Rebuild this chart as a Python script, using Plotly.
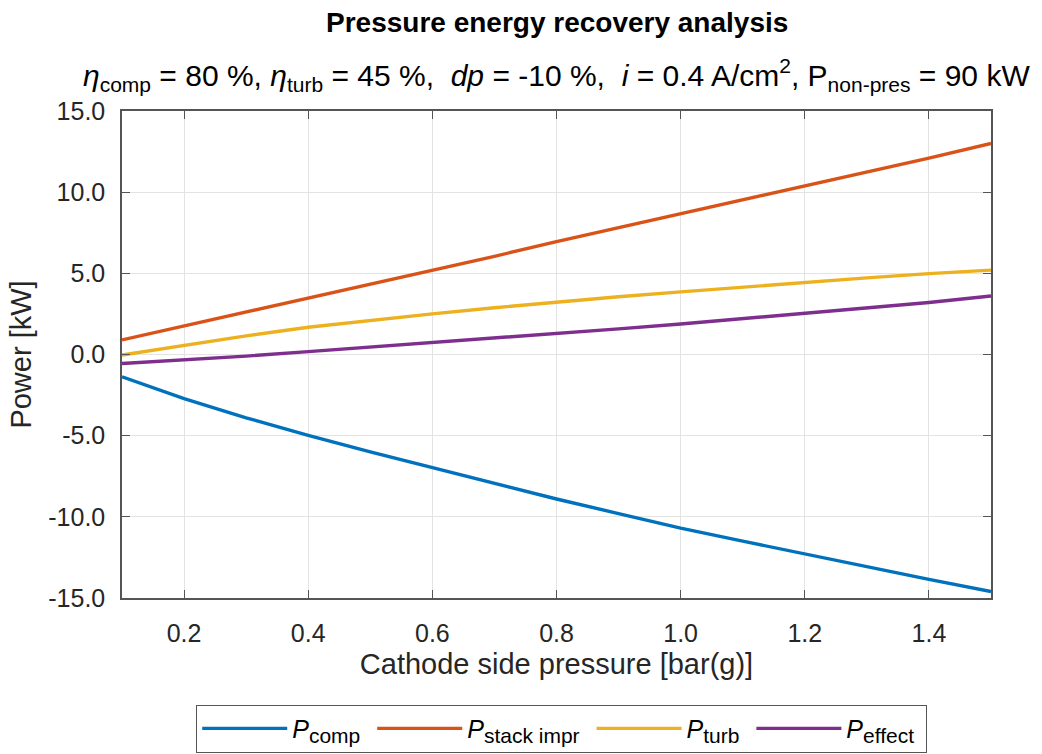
import plotly.graph_objects as go

pressure = [0.1, 0.2, 0.3, 0.4, 0.5, 0.6, 0.7, 0.8, 0.9, 1.0, 1.1, 1.2, 1.3, 1.4, 1.5]
p_comp = [-1.37, -2.72, -3.9, -4.98, -6.0, -6.98, -7.95, -8.9, -9.8, -10.7, -11.5, -12.3, -13.1, -13.85, -14.6]
p_stack = [0.9, 1.75, 2.6, 3.45, 4.3, 5.15, 6.05, 6.95, 7.8, 8.7, 9.55, 10.4, 11.25, 12.1, 13.0]
p_turb = [-0.03, 0.58, 1.15, 1.68, 2.1, 2.5, 2.88, 3.24, 3.56, 3.86, 4.16, 4.45, 4.72, 4.98, 5.2]
p_effect = [-0.55, -0.35, -0.1, 0.18, 0.45, 0.72, 1.0, 1.3, 1.58, 1.88, 2.2, 2.52, 2.85, 3.2, 3.6]

x_ticks = [0.2, 0.4, 0.6, 0.8, 1.0, 1.2, 1.4]
x_ticklabels = ["0.2", "0.4", "0.6", "0.8", "1.0", "1.2", "1.4"]
y_ticks = [-15, -10, -5, 0, 5, 10, 15]
y_ticklabels = ["-15.0", "-10.0", "-5.0", "0.0", "5.0", "10.0", "15.0"]

def leg(sub):
    return "<i>P</i><sub><span style='font-size:21px'>" + sub + "</span></sub>&nbsp;"

series = [
    (leg("comp"), p_comp, "#0072BD"),
    (leg("stack impr"), p_stack, "#D95319"),
    (leg("turb"), p_turb, "#EDB120"),
    (leg("effect"), p_effect, "#7E2F8E"),
]

FONT = "Liberation Sans, Arial, sans-serif"
AX = "#262626"
AXLINE = "#555555"

fig = go.Figure()
for name, vals, col in series:
    fig.add_trace(go.Scatter(x=pressure, y=vals, mode="lines", name=name,
                             line=dict(color=col, width=3.4)))

fig.update_layout(
    width=1042, height=754,
    paper_bgcolor="white", plot_bgcolor="white",
    margin=dict(l=122, r=51, t=111, b=156, autoexpand=False),
    font=dict(family=FONT, size=22, color=AX),
    showlegend=True,
    legend=dict(orientation="h", x=0.506, xanchor="center", y=-0.219, yanchor="top",
                bordercolor="#555555", borderwidth=1, bgcolor="white",
                font=dict(size=25, color="#000000"), itemwidth=85,
                tracegroupgap=0),
)
fig.add_annotation(text="<b>Pressure energy recovery analysis</b>", xref="paper", yref="paper",
                   x=0.5, y=1, yshift=89, xanchor="center", yanchor="middle", showarrow=False,
                   font=dict(size=28, color="#000000", family=FONT))
fig.add_annotation(text="<i>η</i><sub>comp</sub> = 80 %, <i>η</i><sub>turb</sub> = 45 %,  <i>dp</i> = -10 %,  <i>i</i> = 0.4 A/cm<sup>2</sup>, P<sub>non-pres</sub> = 90 kW",
                   xref="paper", yref="paper", x=0.5, y=1, yshift=36, xanchor="center", yanchor="middle",
                   showarrow=False, font=dict(size=30, color="#000000", family=FONT))

fig.update_xaxes(range=[0.1, 1.5], tickvals=x_ticks, ticktext=x_ticklabels,
                 showgrid=True, gridcolor="#E3E3E3", gridwidth=1,
                 showline=True, linecolor=AXLINE, linewidth=1.5, mirror="ticks",
                 ticks="inside", ticklen=8, tickcolor=AXLINE, zeroline=False,
                 tickfont=dict(size=25, color=AX), ticklabelstandoff=12,
                 title=dict(text="Cathode side pressure [bar(g)]", font=dict(size=29, color=AX), standoff=8))
fig.update_yaxes(range=[-15, 15], tickvals=y_ticks, ticktext=y_ticklabels,
                 showgrid=True, gridcolor="#E3E3E3", gridwidth=1,
                 showline=True, linecolor=AXLINE, linewidth=1.5, mirror="ticks",
                 ticks="inside", ticklen=8, tickcolor=AXLINE, zeroline=False,
                 tickfont=dict(size=25, color=AX), ticklabelstandoff=10,
                 title=dict(text="Power [kW]", font=dict(size=29, color=AX), standoff=8))

fig.write_html("out.html")
